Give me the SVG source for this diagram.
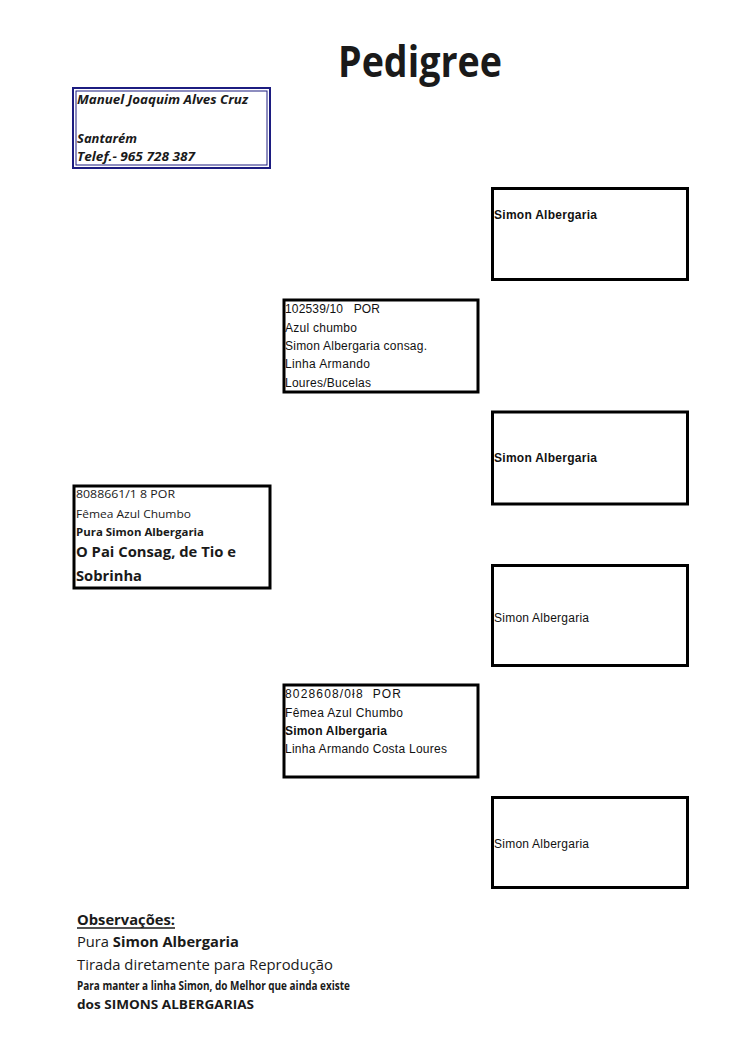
<svg xmlns="http://www.w3.org/2000/svg" width="750" height="1061" viewBox="0 0 750 1061">
<style>
.bx{fill:#fff;stroke:#000;stroke-width:3}
.c{font-family:"Open Sans","Noto Sans",sans-serif;fill:#1a1a1a}
.a{font-family:"Liberation Sans",Arial,sans-serif;fill:#111;font-size:12px}
.b{font-weight:bold}
.i{font-style:italic}
</style>
<rect width="750" height="1061" fill="#fff"/>
<text class="c b" x="338" y="77" font-size="43" fill="#262626" textLength="164" lengthAdjust="spacingAndGlyphs">Pedigree</text>
<g id="owner">
<rect x="73" y="88" width="197" height="80" fill="#fff" stroke="#1c1c80" stroke-width="2"/>
<rect x="76" y="91" width="191" height="74" fill="none" stroke="#1c1c80" stroke-width="1"/>
<text class="c b i" font-size="12" x="77" y="104" textLength="171" lengthAdjust="spacingAndGlyphs">Manuel Joaquim Alves Cruz</text>
<text class="c b i" font-size="12" x="77" y="143" textLength="60" lengthAdjust="spacingAndGlyphs">Santarém</text>
<text class="c b i" font-size="12" x="77" y="161" textLength="118" lengthAdjust="spacingAndGlyphs">Telef.- 965 728 387</text>
</g>
<g id="subject">
<rect class="bx" x="74" y="486" width="196" height="102"/>
<text class="c" font-size="11" x="76" y="498" textLength="99" lengthAdjust="spacingAndGlyphs">8088661/1 8 POR</text>
<text class="c" font-size="11" x="76" y="518" textLength="115" lengthAdjust="spacingAndGlyphs">Fêmea Azul Chumbo</text>
<text class="c b" font-size="11" x="76" y="536" textLength="128" lengthAdjust="spacingAndGlyphs">Pura Simon Albergaria</text>
<text class="c b" font-size="14.5" x="76" y="557" textLength="160" lengthAdjust="spacingAndGlyphs">O Pai Consag, de Tio e</text>
<text class="c b" font-size="14.5" x="76" y="581" textLength="66" lengthAdjust="spacingAndGlyphs">Sobrinha</text>
</g>
<g id="sire">
<rect class="bx" x="284" y="300" width="194" height="92"/>
<text class="a" x="285" y="313" xml:space="preserve" textLength="95">102539/10   POR</text>
<text class="a" x="285" y="332" textLength="72">Azul chumbo</text>
<text class="a" x="285" y="350" textLength="142">Simon Albergaria consag.</text>
<text class="a" x="285" y="368" textLength="85">Linha Armando</text>
<text class="a" x="285" y="387" textLength="86">Loures/Bucelas</text>
</g>
<g id="dam">
<rect class="bx" x="284" y="685" width="194" height="92"/>
<text class="a" x="285" y="698" xml:space="preserve" textLength="116">8028608/0ł8  POR</text>
<text class="a" x="285" y="717" textLength="118">Fêmea Azul Chumbo</text>
<text class="a b" x="285" y="735" textLength="102">Simon Albergaria</text>
<text class="a" x="285" y="753" textLength="162">Linha Armando Costa Loures</text>
</g>
<g id="gs1">
<rect class="bx" x="492.5" y="188.5" width="195" height="91"/>
<text class="a b" x="494" y="219" textLength="103">Simon Albergaria</text>
</g>
<g id="gd1">
<rect class="bx" x="492.5" y="412" width="195" height="92"/>
<text class="a b" x="494" y="462" textLength="103">Simon Albergaria</text>
</g>
<g id="gs2">
<rect class="bx" x="492.5" y="565.5" width="195" height="100"/>
<text class="a" x="494" y="622" textLength="95">Simon Albergaria</text>
</g>
<g id="gd2">
<rect class="bx" x="492.5" y="797.5" width="195" height="90"/>
<text class="a" x="494" y="848" textLength="95">Simon Albergaria</text>
</g>
<g id="connectors"></g>
<g id="notes">
<text class="c b" font-size="14" x="77" y="925" textLength="98" lengthAdjust="spacingAndGlyphs">Observações:</text>
<line x1="77" y1="928" x2="175" y2="928" stroke="#1a1a1a" stroke-width="1.3"/>
<text class="c" font-size="14" x="77" y="947" textLength="162" lengthAdjust="spacingAndGlyphs">Pura <tspan class="b">Simon Albergaria</tspan></text>
<text class="c" font-size="14" x="77" y="970" textLength="256" lengthAdjust="spacingAndGlyphs">Tirada diretamente para Reprodução</text>
<text class="c b" font-size="11.5" x="77" y="990" textLength="273" lengthAdjust="spacingAndGlyphs">Para manter a linha Simon, do Melhor que ainda existe</text>
<text class="c b" font-size="11.5" x="77" y="1009" textLength="177" lengthAdjust="spacingAndGlyphs">dos SIMONS ALBERGARIAS</text>
</g>
</svg>
